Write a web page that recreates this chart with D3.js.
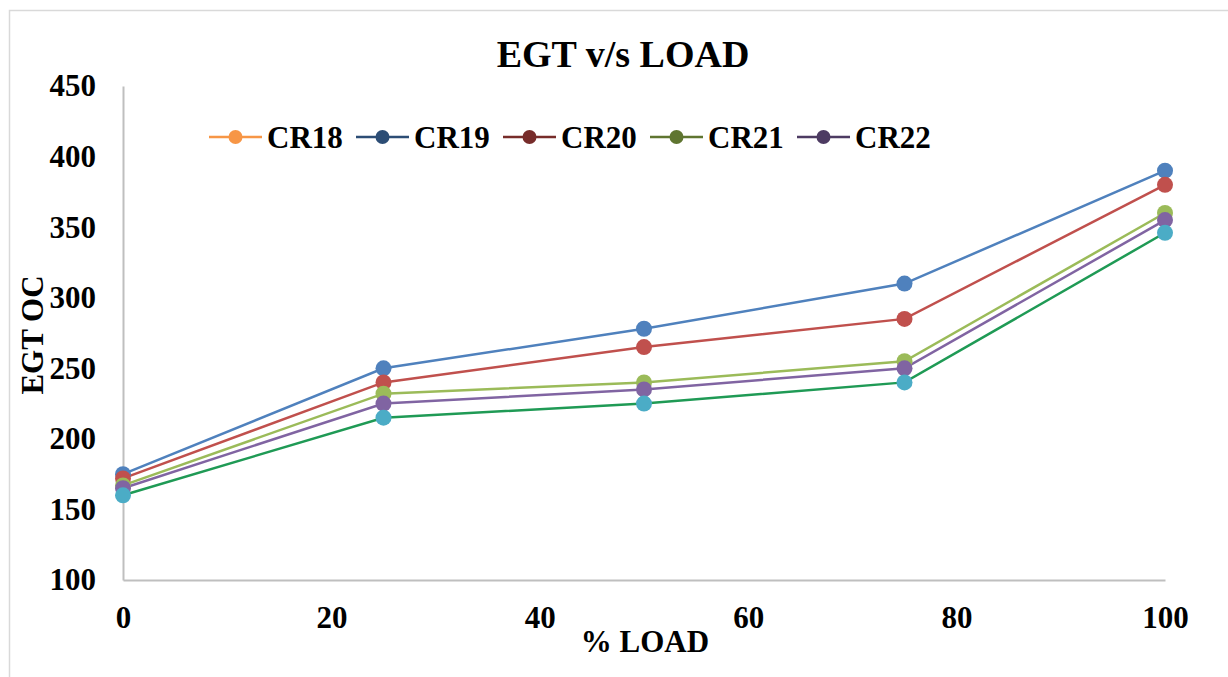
<!DOCTYPE html>
<html>
<head>
<meta charset="utf-8">
<script src="https://cdn.jsdelivr.net/npm/d3@7/dist/d3.min.js"></script>
<style>
  html, body { margin: 0; padding: 0; background: #fff; }
  svg { display: block; font-family: "Liberation Serif", "Times New Roman", serif; font-weight: bold; }
</style>
</head>
<body>
<svg id="chart" width="1228" height="677"></svg>
<script>
// Exhaust gas temperature at each load step, per compression ratio
const loads = [0, 25, 50, 75, 100];
const seriesNames = ["CR18", "CR19", "CR20", "CR21", "CR22"];
const cr18 = [160, 215, 225, 240, 346];
const cr19 = [175, 250, 278, 310, 390];
const cr20 = [172, 240, 265, 285, 380];
const cr21 = [167, 232, 240, 255, 360];
const cr22 = [165, 225, 235, 250, 355];
const xTicks = [0, 20, 40, 60, 80, 100];
const yTicks = [100, 150, 200, 250, 300, 350, 400, 450];

const seriesValues = [cr18, cr19, cr20, cr21, cr22];
const lineColors   = ["#1f9a55", "#4f81bd", "#c0504d", "#9bbb59", "#8064a2"];
const markerColors = ["#4bacc6", "#4f81bd", "#c0504d", "#9bbb59", "#8064a2"];
const legendColors = ["#f79646", "#2c4d75", "#772c2a", "#5f7530", "#4d3b62"];
const drawOrder = [1, 2, 3, 4, 0];

const svg = d3.select("#chart");

// chart area frame
svg.append("rect")
  .attr("x", 9.5).attr("y", 10.5)
  .attr("width", 1240).attr("height", 700)
  .attr("fill", "none").attr("stroke", "#d9d9d9").attr("stroke-width", 1.5);

const x = d3.scaleLinear().domain([0, 100]).range([123, 1165]);
const y = d3.scaleLinear().domain([100, 450]).range([580, 86]);

// axes
const xAxis = svg.append("g")
  .attr("transform", `translate(0,${y(100)})`)
  .call(d3.axisBottom(x).tickValues(xTicks).tickSize(0).tickPadding(26).tickFormat(d3.format("d")));
const yAxis = svg.append("g")
  .attr("transform", `translate(${x(0)},0)`)
  .call(d3.axisLeft(y).tickValues(yTicks).tickSize(0).tickPadding(27).tickFormat(d3.format("d")));

[xAxis, yAxis].forEach(g => {
  g.select(".domain").attr("stroke", "#bfbfbf").attr("stroke-width", 2);
  g.selectAll("text")
    .attr("font-family", "Liberation Serif, Times New Roman, serif")
    .attr("font-weight", "bold")
    .attr("font-size", 31)
    .attr("fill", "#000");
});

// series lines and markers
const line = d3.line().x((d, i) => x(loads[i])).y(d => y(d));
drawOrder.forEach(k => {
  svg.append("path")
    .datum(seriesValues[k])
    .attr("d", line)
    .attr("fill", "none")
    .attr("stroke", lineColors[k])
    .attr("stroke-width", 2.5);
});
drawOrder.forEach(k => {
  svg.append("g").selectAll("circle")
    .data(seriesValues[k])
    .join("circle")
    .attr("cx", (d, i) => x(loads[i]))
    .attr("cy", d => y(d))
    .attr("r", 8)
    .attr("fill", markerColors[k]);
});

// title
svg.append("text")
  .attr("x", 623).attr("y", 67)
  .attr("text-anchor", "middle")
  .attr("font-size", 38)
  .text("EGT v/s LOAD");

// axis titles
svg.append("text")
  .attr("x", 645).attr("y", 652)
  .attr("text-anchor", "middle")
  .attr("font-size", 31)
  .text("% LOAD");
svg.append("text")
  .attr("transform", "translate(43,335) rotate(-90)")
  .attr("text-anchor", "middle")
  .attr("font-size", 31)
  .text("EGT OC");

// legend
const legend = svg.append("g");
seriesNames.forEach((name, i) => {
  const lx = 209 + i * 147;
  const g = legend.append("g").attr("transform", `translate(${lx},137)`);
  g.append("line").attr("x1", 0).attr("x2", 53).attr("y1", 0).attr("y2", 0)
    .attr("stroke", legendColors[i]).attr("stroke-width", 2.5);
  g.append("circle").attr("cx", 26.5).attr("cy", 0).attr("r", 7)
    .attr("fill", legendColors[i]);
  g.append("text").attr("x", 58).attr("y", 11)
    .attr("font-size", 31)
    .text(name);
});
</script>
</body>
</html>
